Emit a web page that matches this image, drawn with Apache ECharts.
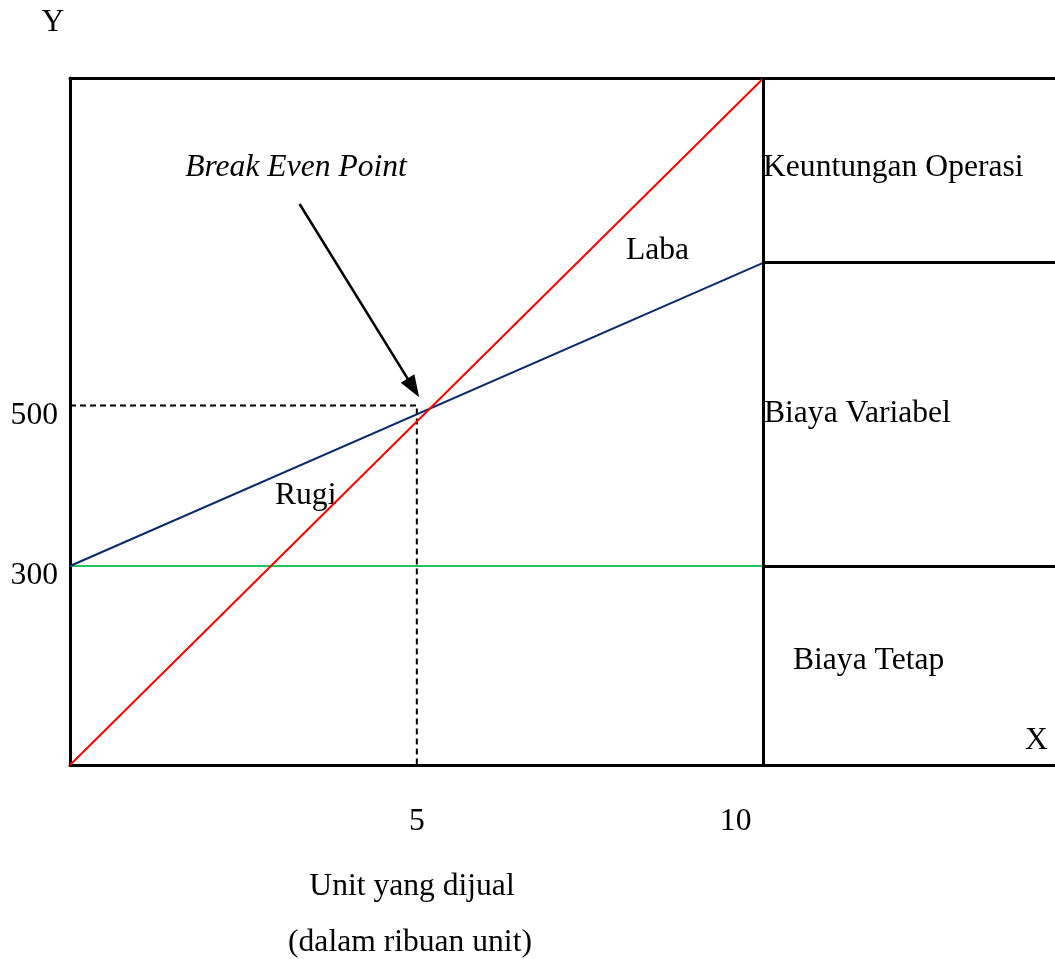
<!DOCTYPE html>
<html>
<head>
<meta charset="utf-8">
<title>Break Even Point</title>
<script src="https://cdn.jsdelivr.net/npm/echarts@6/dist/echarts.min.js"></script>
<style>
  html, body { margin: 0; padding: 0; background: #ffffff; }
  #chart { width: 1055px; height: 959px; }
</style>
</head>
<body>
<div id="chart"></div>
<script>
// Unit terjual (ribuan unit) dan rentang sumbu
const xMin = 0;
const xMax = 14.2;          // sumbu X diteruskan ke kolom keterangan di kanan
const yMin = 52;
const yMax = 908;

// Label sumbu
const xTickValues = [5, 10];
const yTickValues = [300, 500];

// Garis pendapatan penjualan (merah)
const pendapatan = [[0, 52], [10, 908]];
// Garis biaya total = biaya tetap + biaya variabel (biru)
const biayaTotal = [[0, 300], [10, 678]];
// Garis biaya tetap (hijau)
const biayaTetap = [[0, 300], [10, 300]];
// Titik impas
const bep = [5, 500];
// Panah penunjuk titik impas: pangkal dan ujung
const panah = [[3.31, 751], [4.95, 522]];
// Batas kolom keterangan di kanan
const batasKolom = 10;
const batasBaris = [678, 300];

const FONT = '"Liberation Serif", "Times New Roman", serif';
const FS = 31.6;

const chart = echarts.init(document.getElementById('chart'), null, { renderer: 'canvas' });

function txt(text, x, y, align, italic) {
  return {
    type: 'text',
    x: x, y: y,
    silent: true,
    style: {
      text: text,
      font: (italic ? 'italic ' : '') + FS + 'px ' + FONT,
      fill: '#000',
      textAlign: align, align: align,
      textVerticalAlign: 'middle', verticalAlign: 'middle'
    }
  };
}

const blackLine = { color: '#000', width: 3 };

const option = {
  animation: false,
  backgroundColor: '#ffffff',
  grid: { left: 70, right: 0, top: 78, bottom: 194, containLabel: false },
  xAxis: [
    {
      type: 'value', min: xMin, max: xMax,
      splitLine: { show: false },
      axisTick: { show: false },
      axisLine: { show: true, onZero: false, lineStyle: blackLine },
      axisLabel: {
        customValues: xTickValues,
        margin: 41,
        fontFamily: FONT, fontSize: FS, color: '#000',
        formatter: v => v === 10 ? '{s|10}' : String(v),
        rich: { s: { fontFamily: FONT, fontSize: FS, color: '#000', padding: [0, 56, 0, 0] } }
      }
    },
    {
      // garis tepi atas
      type: 'value', position: 'top', min: xMin, max: xMax,
      splitLine: { show: false }, axisTick: { show: false }, axisLabel: { show: false },
      axisLine: { show: true, onZero: false, lineStyle: blackLine }
    }
  ],
  yAxis: {
    type: 'value', min: yMin, max: yMax,
    splitLine: { show: false },
    axisTick: { show: false },
    axisLine: { show: true, onZero: false, lineStyle: blackLine },
    axisLabel: {
      customValues: yTickValues,
      margin: 12,
      verticalAlign: 'top',
      lineHeight: 20,
      fontFamily: FONT, fontSize: FS, color: '#000'
    }
  },
  series: [
    {
      name: 'Batas kolom', type: 'line', data: [], silent: true,
      markLine: {
        silent: true, symbol: 'none', label: { show: false },
        lineStyle: { color: '#000', width: 3, type: 'solid' },
        data: [
          [{ coord: [batasKolom, yMin] }, { coord: [batasKolom, yMax] }],
          [{ coord: [batasKolom, batasBaris[0]] }, { coord: [xMax, batasBaris[0]] }],
          [{ coord: [batasKolom, batasBaris[1]] }, { coord: [xMax, batasBaris[1]] }]
        ]
      }
    },
    {
      name: 'Garis bantu BEP', type: 'line', silent: true, symbol: 'none',
      data: [[0, bep[1]], bep, [bep[0], yMin]],
      lineStyle: { color: '#000', width: 2, type: [6, 4] }
    },
    {
      name: 'Biaya Tetap', type: 'line', silent: true, symbol: 'none',
      data: biayaTetap,
      lineStyle: { color: '#22c55e', width: 2 }
    },
    {
      name: 'Biaya Total', type: 'line', silent: true, symbol: 'none',
      data: biayaTotal,
      lineStyle: { color: '#0b2a66', width: 2 }
    },
    {
      name: 'Pendapatan', type: 'line', silent: true, symbol: 'none',
      data: pendapatan,
      lineStyle: { color: '#ff0000', width: 2 }
    },
    {
      name: 'Panah', type: 'line', data: [], silent: true,
      markLine: {
        silent: true, symbol: ['none', 'triangle'], symbolSize: [16, 22],
        label: { show: false },
        lineStyle: { color: '#000', width: 2.5, type: 'solid' },
        itemStyle: { color: '#000' },
        data: [[{ coord: panah[0] }, { coord: panah[1] }]]
      }
    }
  ],
  graphic: [
    txt('Y', 53, 22.5, 'center'),
    txt('Break Even Point', 296, 167.5, 'center', true),
    txt('Keuntungan Operasi', 763, 167.5, 'left'),
    txt('Laba', 626, 251, 'left'),
    txt('Biaya Variabel', 764, 414, 'left'),
    txt('Rugi', 275, 495.5, 'left'),
    txt('Biaya Tetap', 793, 661, 'left'),
    txt('X', 1025, 741, 'left'),
    txt('Unit yang dijual', 412, 886.5, 'center'),
    txt('(dalam ribuan unit)', 410, 943, 'center')
  ]
};

chart.setOption(option);
</script>
</body>
</html>
